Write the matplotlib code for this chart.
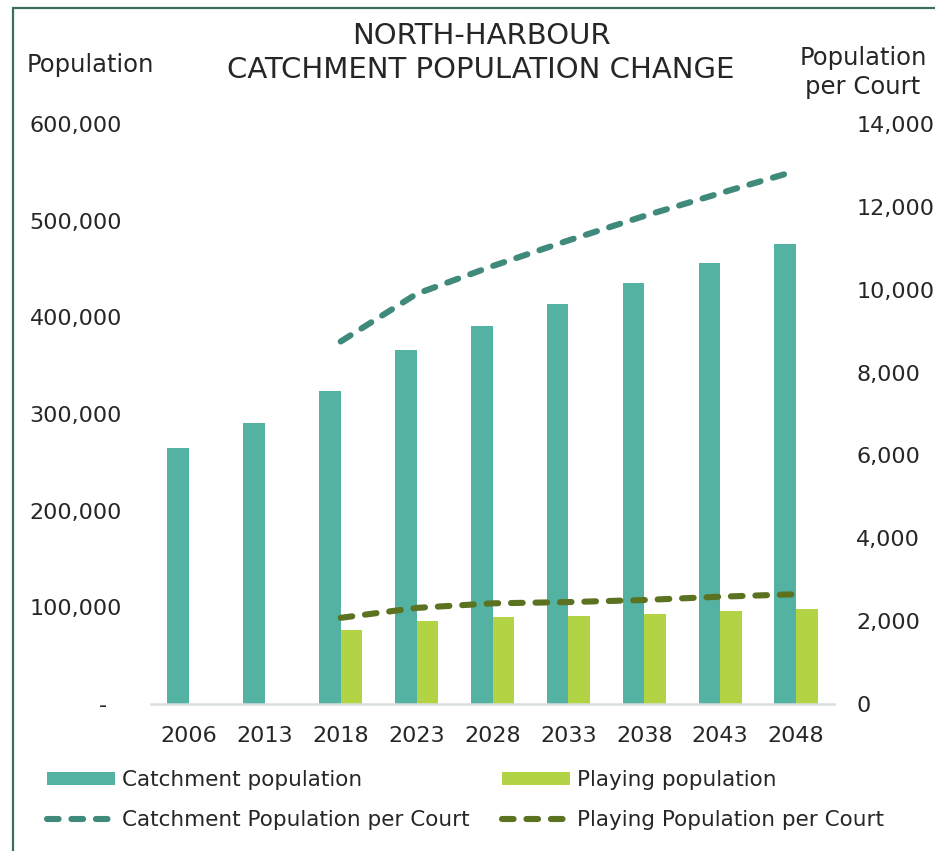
# 北港集水区人口变化图
from matplotlib import pyplot as plt
from matplotlib.patches import Rectangle
from matplotlib.ticker import FuncFormatter, MultipleLocator
import numpy as np

# 数据
years = ['2006', '2013', '2018', '2023', '2028', '2033', '2038', '2043', '2048']
catchment = [265000, 291000, 324000, 366000, 391000, 414000, 436000, 456000, 476000]
playing = [np.nan, np.nan, 77000, 86000, 90000, 91000, 93000, 96000, 98000]
catchment_per_court = [np.nan, np.nan, 8750, 9900, 10570, 11190, 11780, 12330, 12870]
playing_per_court = [np.nan, np.nan, 2080, 2320, 2430, 2460, 2510, 2590, 2650]

TEAL = '#54b2a2'
LIME = '#b1d344'
TEAL_DARK = '#3f8a7b'
OLIVE = '#5b7321'
TEXT = '#262626'

plt.rcParams['font.family'] = ['DejaVu Sans']
plt.rcParams['text.color'] = TEXT

W, H = 935, 851
fig = plt.figure(figsize=(W / 100, H / 100), dpi=100)

# 外框
fig.patches.append(Rectangle((13 / W, -0.1), 1.2, 1 - 8 / H + 0.1, transform=fig.transFigure,
                             fill=False, edgecolor='#3b6e62', linewidth=1.6))

left, right, top, base = 151, 834, 124, 704
ax = fig.add_axes([left / W, 1 - base / H, (right - left) / W, (base - top) / H])
ax2 = ax.twinx()

x = np.arange(len(years))
w = 0.285
b1 = ax.bar(x - w, catchment, w, align='edge', color=TEAL, label='Catchment population')
b2 = ax.bar(x, playing, w, align='edge', color=LIME, label='Playing population')

dash = dict(linewidth=4.4, linestyle=(0, (1.9, 2.1)), dash_capstyle='round')
l1, = ax2.plot(x, catchment_per_court, color=TEAL_DARK, label='Catchment Population per Court', **dash)
l2, = ax2.plot(x, playing_per_court, color=OLIVE, label='Playing Population per Court', **dash)

ax.set_xlim(-0.5, len(years) - 0.5)
ax.set_ylim(0, 600000)
ax2.set_ylim(0, 14000)
ax.yaxis.set_major_locator(MultipleLocator(100000))
ax2.yaxis.set_major_locator(MultipleLocator(2000))
ax.yaxis.set_major_formatter(FuncFormatter(lambda v, p: '-  ' if v == 0 else f'{v:,.0f}'))
ax2.yaxis.set_major_formatter(FuncFormatter(lambda v, p: f'{v:,.0f}'))
ax.set_xticks(x)
ax.set_xticklabels(years)

for a in (ax, ax2):
    for s in a.spines.values():
        s.set_visible(False)
    a.tick_params(length=0, labelsize=16, labelcolor=TEXT)
ax.spines['bottom'].set_visible(True)
ax.spines['bottom'].set_color('#d9dfdf')
ax.spines['bottom'].set_linewidth(1.8)
ax.tick_params(axis='y', pad=21)
ax.tick_params(axis='x', pad=16)
ax2.tick_params(axis='y', pad=16)

# 标题和轴标题
fig.text(481 / W, 1 - 36 / H, 'NORTH-HARBOUR', ha='center', va='center', fontsize=21)
fig.text(481 / W, 1 - 70 / H, 'CATCHMENT POPULATION CHANGE', ha='center', va='center', fontsize=21)
fig.text(27 / W, 1 - 65 / H, 'Population', ha='left', va='center', fontsize=17.5)
fig.text(863 / W, 1 - 58 / H, 'Population', ha='center', va='center', fontsize=17.5)
fig.text(863 / W, 1 - 87 / H, 'per Court', ha='center', va='center', fontsize=17.5)

# 图例
fig.legend(handles=[b1, l1, b2, l2], ncol=2, loc='upper left',
           bbox_to_anchor=(47 / W, 1 - 770 / H), frameon=False, fontsize=15.5,
           borderpad=0, borderaxespad=0, handlelength=3.15, handleheight=0.55,
           handletextpad=0.33, columnspacing=1.5, labelspacing=0.95)

fig.savefig('out.png', dpi=100)
